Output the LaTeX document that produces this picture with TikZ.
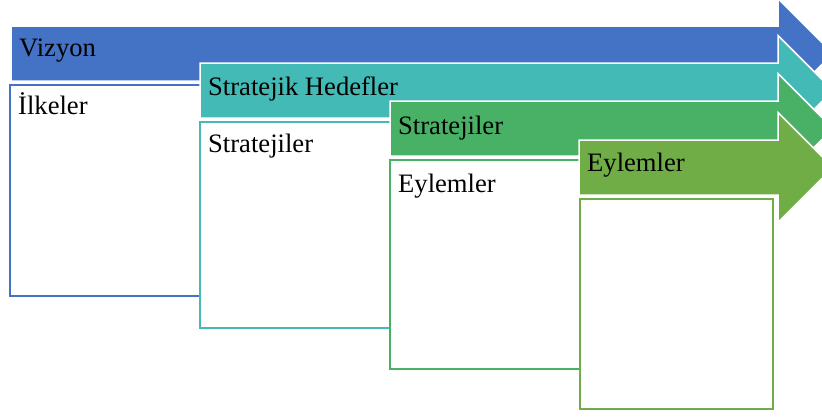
\documentclass[tikz,border=0pt]{standalone}
\usepackage{fontspec}
\setmainfont{Liberation Serif}
\definecolor{cA}{RGB}{68,114,196}
\definecolor{cB}{RGB}{67,186,181}
\definecolor{cC}{RGB}{73,177,101}
\definecolor{cD}{RGB}{112,173,71}
\begin{document}
\begin{tikzpicture}[x=1pt,y=-1pt,
  lbl/.style={anchor=base west,inner sep=0pt,font=\fontsize{26.6}{30}\selectfont,text=black},
  arrowshape/.style={draw=white,line width=1.5pt,line join=miter},
  boxline/.style={line width=2.5pt}]
\useasboundingbox (0,0) rectangle (822,418);
\clip (0,0) rectangle (822,418);
% arrows and boxes, in stacking order
\newcommand{\myarrow}[3]{%
  \fill[#3,arrowshape] (#1,#2) -- (778,#2) -- (778,#2-27.5) -- (833,#2+27.5) -- (778,#2+82.5) -- (778,#2+55) -- (#1,#2+55) -- cycle;}
\newcommand{\mybox}[5]{%
  \draw[#5,boxline] (#2,#3) -| (#1,#4) -- (#2,#4);}
% level 1
\myarrow{11}{26}{cA}
\node[lbl] (vizyon) at (19,56) {Vizyon};
\mybox{10}{200}{85}{296}{cA}
\node[lbl] (ilkeler) at (18,114) {İlkeler};
% level 2
\myarrow{200}{63}{cB}
\node[lbl] (hedef) at (208,95) {Stratejik Hedefler};
\mybox{200}{390}{122}{328}{cB}
\node[lbl] (strat1) at (208,152) {Stratejiler};
% level 3
\myarrow{390}{101}{cC}
\node[lbl] (strat2) at (398,134) {Stratejiler};
\mybox{390}{580}{160}{369}{cC}
\node[lbl] (eylem1) at (398,192) {Eylemler};
% level 4
\myarrow{579}{140}{cD}
\node[lbl] (eylem2) at (587,171) {Eylemler};
\draw[cD,boxline,fill=white] (580,199) rectangle (773,409);
\end{tikzpicture}
\end{document}
